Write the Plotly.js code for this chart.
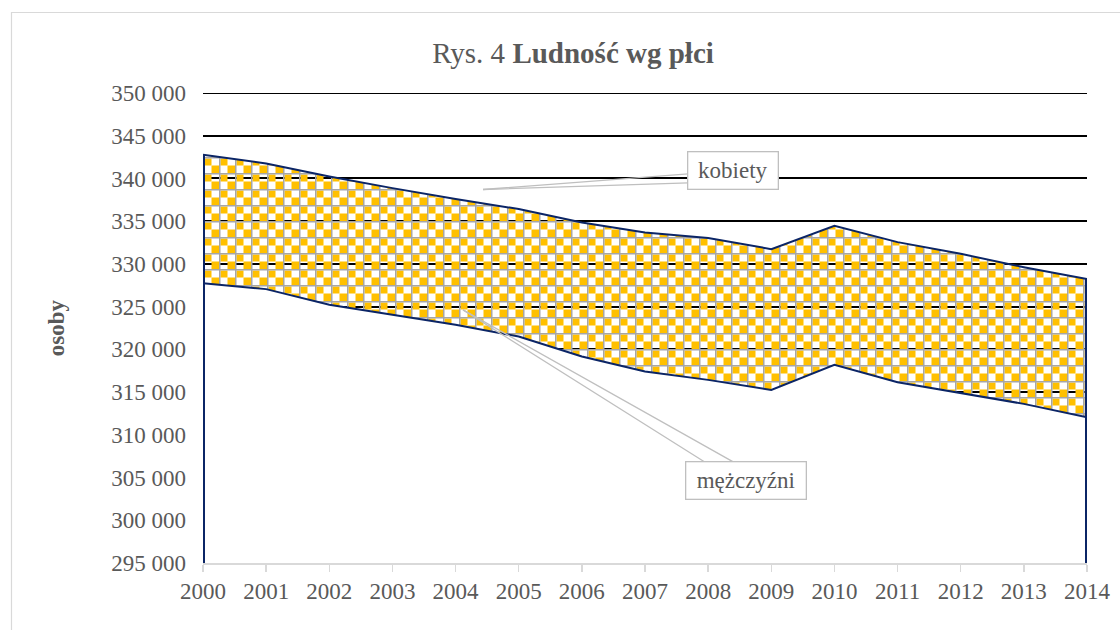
<!DOCTYPE html>
<html>
<head>
<meta charset="utf-8">
<script src="https://cdn.plot.ly/plotly-3.0.1.min.js"></script>
<style>
  html, body { margin: 0; padding: 0; background: #ffffff; }
  #chart { width: 1120px; height: 630px; }
</style>
</head>
<body>
<div id="chart"></div>
<script>
// ---- data ----
const years = [2000, 2001, 2002, 2003, 2004, 2005, 2006, 2007, 2008, 2009, 2010, 2011, 2012, 2013, 2014];
const kobiety = [342780, 341760, 340240, 338870, 337590, 336420, 334850, 333680, 333020, 331730, 334460, 332550, 331180, 329620, 328220];
const mezczyzni = [327750, 327050, 325210, 324040, 322870, 321500, 319160, 317400, 316430, 315260, 318190, 316160, 314870, 313620, 312060];
const yRange = [295000, 350000];
const yStep = 5000;
const titleText = 'Rys. 4 <b>Ludność wg płci</b>';
const yTitle = '<b>osoby</b>';
const labelKobiety = 'kobiety';
const labelMezczyzni = 'mężczyźni';

// ---- styles ----
const NAVY = '#0B2566';
const ORANGE = '#FFC000';
const GRID_GRAY = '#A6A6A6';
const GRAYTXT = '#595959';
const FONT = 'Liberation Serif, Times New Roman, serif';

const traces = [
  // women's area: checkered texture + outline
  {
    x: years, y: kobiety, type: 'scatter', mode: 'lines', fill: 'tozeroy', name: labelKobiety,
    line: { color: NAVY, width: 2 },
    fillpattern: { shape: '.', fgcolor: ORANGE, bgcolor: 'rgba(255,255,255,0)', size: 8, solidity: 0.4 },
    hoverinfo: 'skip', showlegend: false
  },
  // men's area (white, hides what lies below)
  {
    x: years, y: mezczyzni, type: 'scatter', mode: 'lines', fill: 'tozeroy', name: labelMezczyzni,
    fillcolor: '#ffffff', line: { color: NAVY, width: 2 },
    hoverinfo: 'skip', showlegend: false
  },
  // vertical edges of the area
  {
    x: [years[0], years[0]], y: [yRange[0], kobiety[0]], type: 'scatter', mode: 'lines',
    line: { color: NAVY, width: 4 }, hoverinfo: 'skip', showlegend: false
  },
  {
    x: [years[years.length - 1], years[years.length - 1]], y: [yRange[0], kobiety[kobiety.length - 1]],
    type: 'scatter', mode: 'lines',
    line: { color: NAVY, width: 4 }, hoverinfo: 'skip', showlegend: false
  }
];

const kTip = { x: 2004.435, y: 338710 };
const mTip = { x: 2004.118, y: 324620 };

function wedge(tip, ax, ay) {
  return {
    x: tip.x, y: tip.y, xref: 'x', yref: 'y', text: '', showarrow: true,
    ax: ax, ay: ay, arrowhead: 0, arrowwidth: 1.3, arrowcolor: '#BFBFBF', borderpad: 0
  };
}
function box(tip, ax, ay, text, w) {
  return {
    x: tip.x, y: tip.y, xref: 'x', yref: 'y', text: text, showarrow: true,
    ax: ax, ay: ay, arrowwidth: 0.1, arrowcolor: 'rgba(0,0,0,0)',
    font: { family: FONT, size: 23, color: GRAYTXT },
    bgcolor: '#ffffff', bordercolor: '#BFBFBF', borderwidth: 1.3, borderpad: 3,
    width: w, height: 30
  };
}

const layout = {
  width: 1120, height: 630,
  margin: { l: 203, r: 33, t: 93, b: 67 },
  paper_bgcolor: '#ffffff', plot_bgcolor: '#ffffff',
  separators: ', ',
  showlegend: false,
  hovermode: false,
  font: { family: FONT, color: GRAYTXT, size: 23 },
  title: {
    text: titleText,
    font: { family: FONT, size: 29, color: GRAYTXT },
    x: 573 / 1120, xref: 'container', xanchor: 'center',
    y: 1 - 52.5 / 630, yref: 'container', yanchor: 'middle'
  },
  xaxis: {
    range: [years[0], years[years.length - 1]],
    tickvals: years, ticktext: years.map(String),
    showgrid: false, zeroline: false,
    showline: true, linecolor: '#D9D9D9', linewidth: 1.5,
    ticks: 'outside', ticklen: 7, tickcolor: '#D9D9D9', tickwidth: 1.5,
    tickfont: { family: FONT, size: 23, color: GRAYTXT },
    fixedrange: true
  },
  yaxis: {
    range: yRange, dtick: yStep, tick0: yRange[0],
    tickformat: ',d',
    showgrid: true, gridcolor: '#000000', gridwidth: 2,
    zeroline: false, showline: false, ticks: '',
    ticklabelstandoff: 16,
    tickfont: { family: FONT, size: 23, color: GRAYTXT },
    title: { text: yTitle, font: { family: FONT, size: 23, color: GRAYTXT }, standoff: 40 },
    fixedrange: true
  },
  annotations: [
    wedge(kTip, 205.7, -15.7),
    wedge(kTip, 205.7, -6.7),
    box(kTip, 250, -18.7, labelKobiety, 83),
    wedge(mTip, 243, 153),
    wedge(mTip, 272, 153),
    box(mTip, 282.5, 171, labelMezczyzni, 113)
  ],
  shapes: [
    // top gridline (Plotly skips a grid line lying on the plot edge)
    {
      type: 'line', xref: 'paper', yref: 'y', x0: 0, x1: 1, y0: yRange[1], y1: yRange[1],
      line: { color: '#000000', width: 2 }, layer: 'below'
    },
    // outer chart frame
    {
      type: 'rect', xref: 'paper', yref: 'paper',
      x0: (11.5 - 203) / 884, x1: 1.3, y0: -0.3, y1: (563 - 12.5) / 470,
      line: { color: '#D9D9D9', width: 1.2 }, fillcolor: 'rgba(0,0,0,0)', layer: 'below'
    }
  ]
};

Plotly.newPlot('chart', traces, layout, { staticPlot: true, displayModeBar: false }).then(function (gd) {
  // turn the dotted fill texture into an Excel-like checkered texture
  const ns = 'http://www.w3.org/2000/svg';
  gd.querySelectorAll('pattern').forEach(function (p) {
    if (!p.querySelector('circle')) return;
    while (p.firstChild) p.removeChild(p.firstChild);
    p.setAttribute('width', '16');
    p.setAttribute('height', '16');
    function r(x, y, w, h, c) {
      const e = document.createElementNS(ns, 'rect');
      e.setAttribute('x', x); e.setAttribute('y', y);
      e.setAttribute('width', w); e.setAttribute('height', h);
      e.setAttribute('fill', c);
      p.appendChild(e);
    }
    r(1.5, 1.5, 7, 7, ORANGE);
    r(8.5, 8.5, 7.5, 7.5, ORANGE);
    r(0, 0, 16, 1.5, GRID_GRAY);
    r(0, 0, 1.5, 16, GRID_GRAY);
  });
});
</script>
</body>
</html>
